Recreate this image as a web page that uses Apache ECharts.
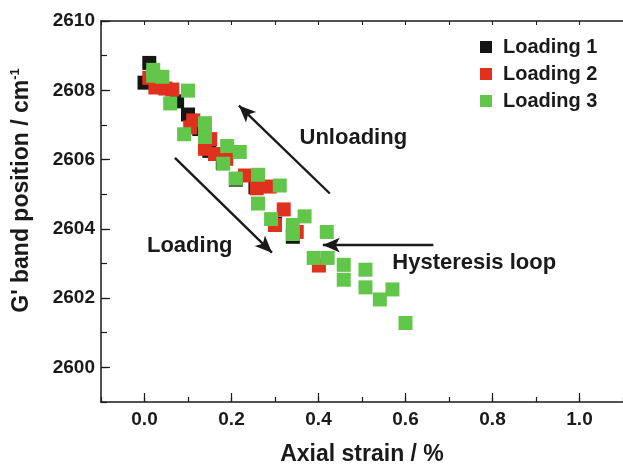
<!DOCTYPE html>
<html>
<head>
<meta charset="utf-8">
<script src="https://cdn.jsdelivr.net/npm/echarts@6/dist/echarts.min.js"></script>
<style>html,body{margin:0;padding:0;background:#fff}#c{width:623px;height:471px}</style>
</head>
<body>
<div id="c"></div>
<script>
// Loading 1 (black)
var loading1X = [0.000, 0.011, 0.030, 0.075, 0.100, 0.126, 0.149, 0.180, 0.210, 0.255, 0.300, 0.341];
var loading1Y = [2608.22, 2608.79, 2608.30, 2607.68, 2607.30, 2606.88, 2606.25, 2605.90, 2605.42, 2605.20, 2604.15, 2603.77];
// Loading 2 (red)
var loading2X = [0.011, 0.025, 0.048, 0.064, 0.112, 0.105, 0.151, 0.139, 0.162, 0.188, 0.231, 0.258, 0.288, 0.320, 0.300, 0.350, 0.401];
var loading2Y = [2608.36, 2608.08, 2608.05, 2608.02, 2607.13, 2606.93, 2606.59, 2606.31, 2606.16, 2606.02, 2605.54, 2605.17, 2605.22, 2604.56, 2604.11, 2603.91, 2602.94];
// Loading 3 (green)
var loading3X = [0.020, 0.020, 0.041, 0.100, 0.059, 0.139, 0.139, 0.091, 0.190, 0.219, 0.181, 0.210, 0.261, 0.311, 0.261, 0.291, 0.341, 0.341, 0.368, 0.419, 0.389, 0.421, 0.458, 0.458, 0.508, 0.508, 0.541, 0.570, 0.600];
var loading3Y = [2608.59, 2608.42, 2608.39, 2607.99, 2607.62, 2607.05, 2606.65, 2606.73, 2606.39, 2606.22, 2605.88, 2605.45, 2605.56, 2605.25, 2604.73, 2604.28, 2604.11, 2603.85, 2604.36, 2603.91, 2603.16, 2603.16, 2602.96, 2602.53, 2602.82, 2602.31, 2601.96, 2602.25, 2601.28];
var seriesNames = ['Loading 1', 'Loading 2', 'Loading 3'];
var xMajorTicks = [0, 0.2, 0.4, 0.6, 0.8, 1.0];
var yMajorTicks = [2600, 2602, 2604, 2606, 2608, 2610];
// annotation arrows [x1, y1, x2, y2] in data units (arrowhead at end)
var arrowUnloading = [0.426, 2605.02, 0.217, 2607.56];
var arrowLoading = [0.070, 2606.05, 0.293, 2603.31];
var arrowHysteresis = [0.664, 2603.53, 0.410, 2603.53];
var annotText = ['Unloading', 'Loading', 'Hysteresis loop'];
var annotX = [0.480, 0.104, 0.758];
var annotY = [2606.62, 2603.50, 2603.02];

function pairs(xs, ys) { return xs.map(function (x, i) { return [x, ys[i]]; }); }

var FONT = 'Liberation Sans, Arial, sans-serif';
var INK = '#1a1a1a';
var colors = ['#151515', '#e0301e', '#62c64a'];

var chart = echarts.init(document.getElementById('c'), null, {renderer: 'canvas'});
var axisLine = {show: true, onZero: false, lineStyle: {color: INK, width: 1.5}};
var noLine = {show: false, onZero: false};
var option = {
  animation: false,
  backgroundColor: '#fff',
  grid: {left: 101, top: 21, right: -1, bottom: 65},
  legend: {
    orient: 'vertical', left: 475, top: 32, itemWidth: 12, itemHeight: 12, itemGap: 7,
    icon: 'rect', selectedMode: false, data: seriesNames,
    textStyle: {fontFamily: FONT, fontSize: 20, fontWeight: 'bold', color: INK, padding: [0, 0, 0, 6]}
  },
  xAxis: [
    {type: 'value', position: 'bottom', min: -0.1, max: 1.1, interval: 0.1,
     axisLine: axisLine, splitLine: {show: false},
     axisTick: {show: true, inside: true, length: 5, lineStyle: {color: INK, width: 1.2}},
     axisLabel: {customValues: xMajorTicks, formatter: function (v) { return v.toFixed(1); },
       fontFamily: FONT, fontSize: 19, fontWeight: 'bold', color: INK, margin: 8},
     name: 'Axial strain / %', nameLocation: 'middle', nameGap: 41,
     nameTextStyle: {fontFamily: FONT, fontSize: 23, fontWeight: 'bold', color: INK}},
    {type: 'value', position: 'bottom', min: -0.1, max: 1.1, interval: 0.1,
     axisLine: noLine, splitLine: {show: false}, axisLabel: {show: false},
     axisTick: {show: true, inside: true, length: 9, customValues: xMajorTicks, lineStyle: {color: INK, width: 1.2}}},
    {type: 'value', position: 'top', min: -0.1, max: 1.1, interval: 0.1,
     axisLine: axisLine, splitLine: {show: false}, axisLabel: {show: false},
     axisTick: {show: true, inside: true, length: 4, lineStyle: {color: INK, width: 1}}}
  ],
  yAxis: [
    {type: 'value', position: 'left', min: 2599, max: 2610, interval: 1,
     axisLine: axisLine, splitLine: {show: false},
     axisTick: {show: true, inside: true, length: 6, lineStyle: {color: INK, width: 1.2}},
     axisLabel: {customValues: yMajorTicks, formatter: function (v) { return String(Math.round(v)); },
       fontFamily: FONT, fontSize: 19, fontWeight: 'bold', color: INK, margin: 6},
     name: "{a|G' band position / cm}{s|-1}", nameLocation: 'middle', nameGap: 66,
     nameTextStyle: {padding: [0, 0, 0, 42], color: INK,
       rich: {a: {fontFamily: FONT, fontSize: 23, fontWeight: 'bold', color: INK, lineHeight: 26},
              s: {fontFamily: FONT, fontSize: 13, fontWeight: 'bold', color: INK, verticalAlign: 'top', lineHeight: 14}}}},
    {type: 'value', position: 'left', min: 2599, max: 2610, interval: 1,
     axisLine: noLine, splitLine: {show: false}, axisLabel: {show: false},
     axisTick: {show: true, inside: true, length: 9, customValues: yMajorTicks, lineStyle: {color: INK, width: 1.2}}}
  ],
  series: [
    {name: seriesNames[0], type: 'scatter', symbol: 'rect', symbolSize: 14, itemStyle: {color: colors[0], opacity: 1},
     data: pairs(loading1X, loading1Y), z: 2},
    {name: seriesNames[1], type: 'scatter', symbol: 'rect', symbolSize: 14, itemStyle: {color: colors[1], opacity: 1},
     data: pairs(loading2X, loading2Y), z: 3},
    {name: seriesNames[2], type: 'scatter', symbol: 'rect', symbolSize: 14, itemStyle: {color: colors[2], opacity: 1},
     data: pairs(loading3X, loading3Y), z: 4},
    {name: 'annotations', type: 'scatter', data: [], z: 5, silent: true,
     markLine: {
       silent: true, symbol: ['none', 'arrow'], symbolSize: [11, 17],
       label: {show: false},
       lineStyle: {color: INK, width: 2.4, type: 'solid', opacity: 1},
       data: [arrowUnloading, arrowLoading, arrowHysteresis].map(function (a) {
         return [{coord: [a[0], a[1]]}, {coord: [a[2], a[3]]}];
       })
     },
     markPoint: {
       silent: true, symbol: 'circle', symbolSize: 0,
       label: {show: true, position: 'inside', formatter: '{b}', fontFamily: FONT, fontSize: 22, fontWeight: 'bold', color: INK},
       data: annotText.map(function (t, i) { return {name: t, coord: [annotX[i], annotY[i]]}; })
     }}
  ]
};
chart.setOption(option);
</script>
</body>
</html>
